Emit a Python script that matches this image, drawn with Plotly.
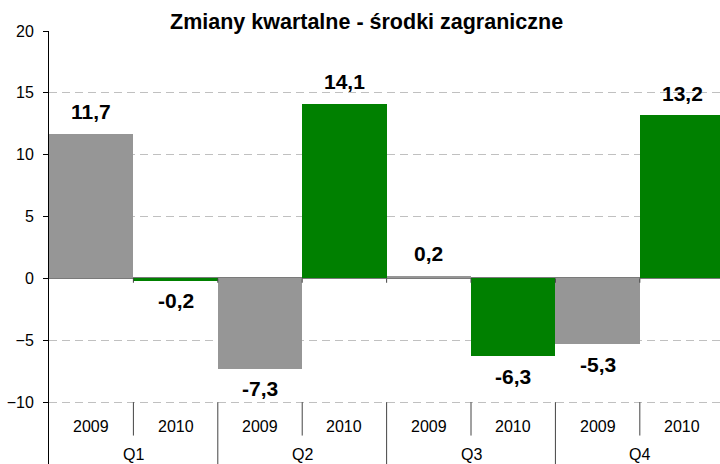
import plotly.graph_objects as go

quarters = ["Q1", "Q2", "Q3", "Q4"]
years = ["2009", "2010"]
values = [11.7, -0.2, -7.3, 14.1, 0.2, -6.3, -5.3, 13.2]
value_labels = ["11,7", "-0,2", "-7,3", "14,1", "0,2", "-6,3", "-5,3", "13,2"]
year_colors = {"2009": "#969696", "2010": "#008000"}
title = "Zmiany kwartalne - środki zagraniczne"
y_ticks = [-10, -5, 0, 5, 10, 15, 20]

FONT = "Liberation Sans, Arial, sans-serif"

xs = list(range(len(values)))
bar_years = [years[i % 2] for i in xs]
colors = [year_colors[y] for y in bar_years]

fig = go.Figure()
fig.add_trace(go.Bar(x=xs, y=values, marker=dict(color=colors, line=dict(width=0)),
                     width=1, hoverinfo="skip"))

ann = []
for i, (v, t) in enumerate(zip(values, value_labels)):
    ann.append(dict(x=i, y=v, xref="x", yref="y", text=f"<b>{t}</b>", showarrow=False,
                    yshift=22 if v >= 0 else -20, font=dict(size=21, color="black", family=FONT)))
for i, y in enumerate(bar_years):
    ann.append(dict(x=i, y=-10, xref="x", yref="y", text=y, showarrow=False, yshift=-24,
                    font=dict(size=16, color="black", family=FONT)))
for q, name in enumerate(quarters):
    ann.append(dict(x=2 * q + 0.5, y=-10, xref="x", yref="y", text=name, showarrow=False, yshift=-52,
                    font=dict(size=16, color="black", family=FONT)))
ann.append(dict(x=(366 - 49) / 671, y=1 + (31 - 22) / 433, xref="paper", yref="paper",
                text=f"<b>{title}</b>", showarrow=False, xanchor="center", yanchor="middle",
                font=dict(size=21.5, color="black", family=FONT)))

shapes = []
for q in range(len(quarters)):
    shapes.append(dict(type="line", xref="x", yref="y", x0=2 * q + 0.5, x1=2 * q + 0.5,
                       y0=-10, y1=-12.7, line=dict(color="#444444", width=1)))
for q in range(1, len(quarters)):
    shapes.append(dict(type="line", xref="x", yref="y", x0=2 * q - 0.5, x1=2 * q - 0.5,
                       y0=-10, y1=-15.1, line=dict(color="#444444", width=1)))
for i in range(len(values) - 1):
    shapes.append(dict(type="line", xref="x", yref="y", x0=i + 0.5, x1=i + 0.5,
                       y0=0, y1=-0.35, line=dict(color="#444444", width=1)))

fig.update_layout(
    width=720, height=464,
    margin=dict(l=49, r=0, t=31, b=0),
    paper_bgcolor="white", plot_bgcolor="white",
    showlegend=False, bargap=0,
    annotations=ann, shapes=shapes,
    font=dict(family=FONT, color="black"),
    xaxis=dict(range=[-0.5, 7.45], showticklabels=False, showgrid=False, zeroline=False,
               showline=False, ticks="", fixedrange=True),
    yaxis=dict(range=[-15.0, 20], tickvals=y_ticks, showgrid=True, gridcolor="#c0c0c0",
               griddash="8px,5px", gridwidth=1, zeroline=True, zerolinecolor="#7a7a7a",
               zerolinewidth=2, showline=True, linecolor="black", linewidth=1,
               ticks="outside", ticklen=5, tickcolor="black", ticklabelstandoff=6,
               tickfont=dict(size=16, color="black", family=FONT)),
)

fig.write_html("out.html", config={"displayModeBar": False},
               post_script="document.body.style.margin='0';document.body.style.overflow='hidden';")
